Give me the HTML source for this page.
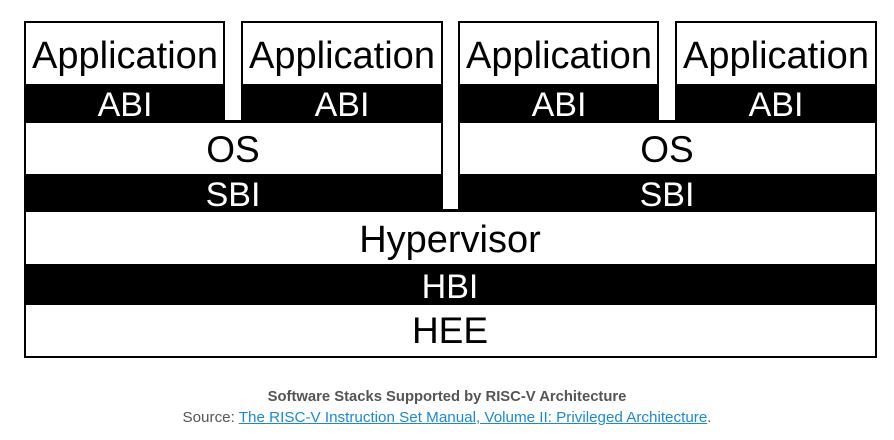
<!DOCTYPE html>
<html><head><meta charset="utf-8"><style>
body{margin:0;background:#fff;width:894px;height:440px;overflow:hidden;font-family:"Liberation Sans",sans-serif}
.cap{position:absolute;left:0;width:894px;text-align:center;color:#555}
a{color:#1a8ad8;text-decoration:underline}
</style></head><body>
<svg width="894" height="370" style="position:absolute;left:0;top:0" font-family="Liberation Sans, sans-serif" text-anchor="middle">
<g fill="#000">
<rect x="24" y="21" width="201" height="190"/>
<rect x="241" y="21" width="202" height="190"/>
<rect x="24" y="120" width="419" height="91"/>
<rect x="458" y="21" width="201" height="190"/>
<rect x="675" y="21" width="202" height="190"/>
<rect x="458" y="120" width="419" height="91"/>
<rect x="24" y="209" width="853" height="149"/>
</g>
<g fill="#fff">
<rect x="26" y="23" width="197" height="61"/>
<rect x="243" y="23" width="198" height="61"/>
<rect x="460" y="23" width="197" height="61"/>
<rect x="677" y="23" width="198" height="61"/>
<rect x="26" y="123" width="415" height="51"/>
<rect x="460" y="123" width="415" height="51"/>
<rect x="26" y="212" width="849" height="52"/>
<rect x="26" y="305" width="849" height="51"/>
</g>
<g font-size="38" fill="#000">
<text x="125" y="68">Application</text>
<text x="342" y="68">Application</text>
<text x="559" y="68">Application</text>
<text x="776" y="68">Application</text>
</g>
<g font-size="34" fill="#fff">
<text x="125" y="116">ABI</text>
<text x="342" y="116">ABI</text>
<text x="559" y="116">ABI</text>
<text x="776" y="116">ABI</text>
<text x="233" y="206">SBI</text>
<text x="667" y="206">SBI</text>
<text x="450" y="298">HBI</text>
</g>
<g font-size="37" fill="#000">
<text x="233" y="162">OS</text>
<text x="667" y="162">OS</text>
<text x="450" y="252" font-size="38">Hypervisor</text>
<text x="450" y="343">HEE</text>
</g>
</svg>
<div class="cap" style="top:389px;font-weight:bold;font-size:14.8px">Software Stacks Supported by RISC-V Architecture</div>
<div class="cap" style="top:409px;font-size:15.2px">Source: <a>The RISC-V Instruction Set Manual, Volume II: Privileged Architecture</a>.</div>
</body></html>
